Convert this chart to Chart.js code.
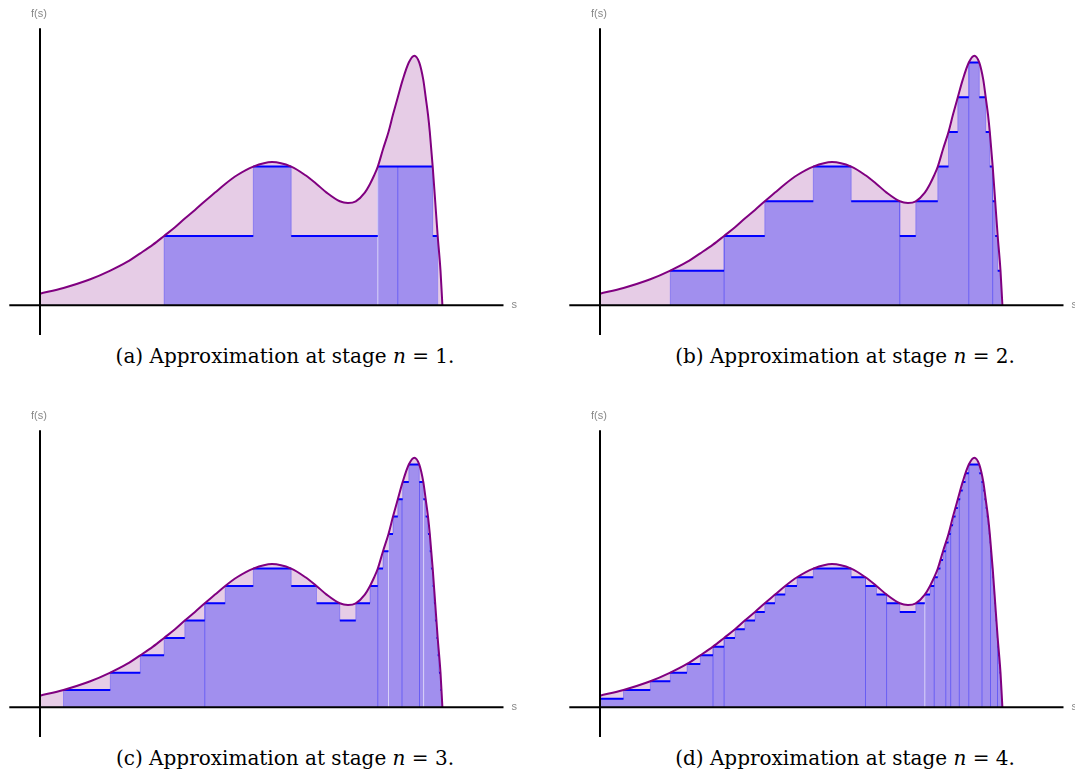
<!DOCTYPE html>
<html><head><meta charset="utf-8">
<script src="https://cdn.jsdelivr.net/npm/chart.js@4.4.1/dist/chart.umd.min.js"></script>
<style>
html,body{margin:0;padding:0;background:#fff;overflow:hidden;width:1075px;height:782px;position:relative;}
.panel{position:absolute;width:540px;height:340px;}
.cap{position:absolute;font-family:"DejaVu Serif","Liberation Serif",serif;font-size:20px;line-height:22px;color:#000;white-space:nowrap;transform:translateX(-50%);}
.cap i{font-style:italic;}
</style></head><body>
<div class="panel" style="left:0;top:0"><canvas id="c1" width="540" height="340"></canvas></div>
<div class="panel" style="left:560px;top:0"><canvas id="c2" width="540" height="340"></canvas></div>
<div class="panel" style="left:0;top:402px"><canvas id="c3" width="540" height="340"></canvas></div>
<div class="panel" style="left:560px;top:402px"><canvas id="c4" width="540" height="340"></canvas></div>
<div class="cap" style="left:285px;top:345px">(a) Approximation at stage <i>n</i>&nbsp;=&nbsp;1.</div>
<div class="cap" style="left:845px;top:345px">(b) Approximation at stage <i>n</i>&nbsp;=&nbsp;2.</div>
<div class="cap" style="left:285px;top:747px">(c) Approximation at stage <i>n</i>&nbsp;=&nbsp;3.</div>
<div class="cap" style="left:845px;top:747px">(d) Approximation at stage <i>n</i>&nbsp;=&nbsp;4.</div>
<script>
// ---- curve f(s) ----
const curveS = [0, 2.35, 5.03, 7.03, 8.70, 10.03, 11.3, 12.41, 13.5, 14.48, 15.5, 16.48, 17.5, 18.52, 19.7, 21.33, 23.2, 25.12, 26.55, 27.65, 28.66, 29.98, 30.8, 31.58, 32.48, 33.0, 33.42, 33.78, 34.3, 34.85, 35.3, 35.78, 36.27, 36.88, 37.43, 37.93, 38.33, 38.57, 38.8, 38.98, 39.27, 39.52, 39.77, 40.05, 40.24];
const curveF = [0.084, 0.125, 0.1875, 0.25, 0.3125, 0.375, 0.4375, 0.5, 0.5625, 0.625, 0.6875, 0.75, 0.8125, 0.875, 0.9375, 1.0, 1.033, 1.0, 0.9375, 0.875, 0.8125, 0.75, 0.738, 0.75, 0.8125, 0.875, 0.9375, 1.0, 1.125, 1.25, 1.375, 1.5, 1.625, 1.75, 1.80, 1.75, 1.625, 1.5, 1.375, 1.25, 1.0, 0.75, 0.5, 0.25, 0];

// ---- step approximations: edges (s) and level index k (value = k / 2^n) ----
const stage1Edges = [0, 12.41, 21.33, 25.12, 33.78, 39.27, 39.77];
const stage1Levels = [0, 1, 2, 1, 2, 1];
const stage2Edges = [0, 7.03, 12.41, 16.48, 21.33, 25.12, 29.98, 31.58, 33.78, 34.85, 35.78, 36.88, 37.93, 38.57, 38.98, 39.27, 39.52, 39.77, 40.05];
const stage2Levels = [0, 1, 2, 3, 4, 3, 2, 3, 4, 5, 6, 7, 6, 5, 4, 3, 2, 1];
const stage3Edges = [0, 2.35, 7.03, 10.03, 12.41, 14.48, 16.48, 18.52, 21.33, 25.12, 27.65, 29.98, 31.58, 33.0, 33.78, 34.3, 34.85, 35.3, 35.78, 36.27, 36.88, 37.93, 38.33, 38.57, 38.8, 38.98, 39.12, 39.27, 39.4, 39.52, 39.65, 39.77, 39.9, 40.05, 40.15];
const stage3Levels = [0, 1, 2, 3, 4, 5, 6, 7, 8, 7, 6, 5, 6, 7, 8, 9, 10, 11, 12, 13, 14, 13, 12, 11, 10, 9, 8, 7, 6, 5, 4, 3, 2, 1];
const stage4Edges = [0, 2.35, 5.03, 7.03, 8.70, 10.03, 11.3, 12.41, 13.5, 14.48, 15.5, 16.48, 17.5, 18.52, 19.7, 21.33, 25.12, 26.55, 27.65, 28.66, 29.98, 31.58, 32.48, 33.0, 33.42, 33.78, 34.04, 34.3, 34.58, 34.85, 35.07, 35.3, 35.55, 35.78, 36.02, 36.27, 36.55, 36.88, 37.93, 38.15, 38.33, 38.45, 38.57, 38.68, 38.8, 38.89, 38.98, 39.05, 39.12, 39.2, 39.27, 39.33, 39.4, 39.46, 39.52, 39.58, 39.65, 39.71, 39.77, 39.83, 39.9, 39.97, 40.05, 40.1, 40.15, 40.2];
const stage4Levels = [1, 2, 3, 4, 5, 6, 7, 8, 9, 10, 11, 12, 13, 14, 15, 16, 15, 14, 13, 12, 11, 12, 13, 14, 15, 16, 17, 18, 19, 20, 21, 22, 23, 24, 25, 26, 27, 28, 27, 26, 25, 24, 23, 22, 21, 20, 19, 18, 17, 16, 15, 14, 13, 12, 11, 10, 9, 8, 7, 6, 5, 4, 3, 2, 1];

// seams between drawn rectangles (s positions)
const seamsA = [35.78];
const seamsB = [12.41, 29.98, 36.88, 39.27];
const seamsC = [16.48, 33.78, 36.2, 37.95];
const seamsD = [11.3, 12.41, 26.55, 28.66, 33.42, 34.58, 35.07, 35.93, 36.88, 38.2, 39.05, 39.75];
const whiteSeamsA = [33.78];
const whiteSeamsC = [34.85, 38.36];
const whiteSeamsD = [32.48];

// axis extents
const xMin = -3.07, xMax = 46.35, yMin = -0.214, yMax = 1.997;

function levelAt(edges, levels, unit, s){
  let best = 0;
  for (let i = 0; i < levels.length; i++) {
    if (s >= edges[i] - 1e-6 && s <= edges[i+1] + 1e-6) best = Math.max(best, levels[i] * unit);
  }
  return best;
}

const axisLabels = {
  id: 'axisLabels',
  afterDraw(chart){
    const {ctx, scales:{x, y}} = chart;
    ctx.save();
    ctx.fillStyle = '#888';
    ctx.font = '11px "Liberation Sans", Arial, sans-serif';
    ctx.textAlign = 'center'; ctx.textBaseline = 'middle';
    ctx.fillText('f(s)', x.getPixelForValue(0) - 1, y.getPixelForValue(yMax) - 14);
    ctx.textAlign = 'left';
    ctx.fillText('s', x.getPixelForValue(xMax) + 8, y.getPixelForValue(0));
    ctx.restore();
  }
};

function makeChart(id, edges, levels, unit, seams, whiteSeams){
  const curve = curveS.map((s, i) => ({x: s, y: curveF[i]}));
  const stepFill = edges.slice(0, levels.length).map((e, i) => ({x: e, y: levels[i] * unit}));
  stepFill.push({x: edges[edges.length - 1], y: 0});
  const tops = [];
  levels.forEach((k, i) => {
    if (k > 0) tops.push({x: edges[i], y: k * unit}, {x: edges[i+1], y: k * unit}, {x: edges[i+1], y: null});
  });
  const seamData = [];
  seams.forEach(s => seamData.push({x: s, y: 0}, {x: s, y: levelAt(edges, levels, unit, s)}, {x: s, y: null}));
  const whiteData = [];
  whiteSeams.forEach(s => whiteData.push({x: s, y: 0}, {x: s, y: levelAt(edges, levels, unit, s)}, {x: s, y: null}));
  const base = {pointRadius: 0, pointHoverRadius: 0, spanGaps: false, fill: false};
  new Chart(document.getElementById(id), {
    type: 'line',
    data: { datasets: [
      {...base, order: 0, data: [{x: xMin, y: 0}, {x: xMax, y: 0}], borderColor: '#000', borderWidth: 2, clip: false},
      {...base, order: 0, data: [{x: 0, y: yMin}, {x: 0, y: yMax}], borderColor: '#000', borderWidth: 2, clip: false},
      {...base, order: 1, data: curve, borderColor: '#800080', borderWidth: 2, cubicInterpolationMode: 'monotone'},
      {...base, order: 2, data: tops, borderColor: '#0000ff', borderWidth: 2},
      {...base, order: 3, data: seamData, borderColor: 'rgba(0,0,255,0.35)', borderWidth: 1},
      {...base, order: 3, data: whiteData, borderColor: 'rgba(255,255,255,0.6)', borderWidth: 1},
      {...base, order: 4, data: stepFill, stepped: true, fill: 'origin', backgroundColor: 'rgba(0,0,255,0.3)', borderColor: 'rgba(0,0,255,0.25)', borderWidth: 1},
      {...base, order: 5, data: curve, fill: 'origin', backgroundColor: 'rgba(128,0,128,0.2)', borderWidth: 0, cubicInterpolationMode: 'monotone'}
    ]},
    options: {
      responsive: false, animation: false, devicePixelRatio: 1, events: [],
      layout: {padding: {left: 9.3, right: 36.5, top: 28.3, bottom: 5}},
      plugins: {legend: {display: false}, tooltip: {enabled: false}},
      scales: {
        x: {type: 'linear', min: xMin, max: xMax, display: false},
        y: {type: 'linear', min: yMin, max: yMax, display: false}
      }
    },
    plugins: [axisLabels]
  });
}

makeChart('c1', stage1Edges, stage1Levels, 1/2, seamsA, whiteSeamsA);
makeChart('c2', stage2Edges, stage2Levels, 1/4, seamsB, []);
makeChart('c3', stage3Edges, stage3Levels, 1/8, seamsC, whiteSeamsC);
makeChart('c4', stage4Edges, stage4Levels, 1/16, seamsD, whiteSeamsD);
</script>
</body></html>
